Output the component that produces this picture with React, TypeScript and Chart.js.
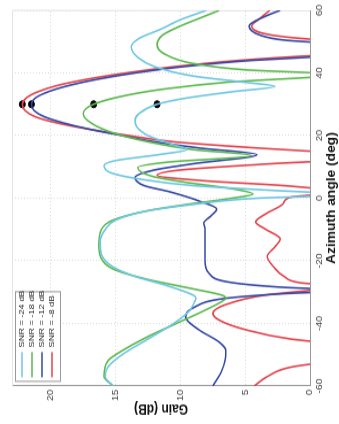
import { useEffect, useRef } from "react";
import { Chart, registerables } from "chart.js";
Chart.register(...registerables);

// ---- data (azimuth in degrees, gain in dB) ----
const AZ_TICKS = [-60, -40, -20, 0, 20, 40, 60];
const GAIN_TICKS = [0, 5, 10, 15, 20];
const SERIES_LABELS = ["SNR = -24 dB", "SNR = -18 dB", "SNR = -12 dB", "SNR = -8 dB"];
const SERIES_COLORS = ["#6ec6e2", "#5cb84e", "#3447a4", "#e2434c"];
const TARGET_AZ = 30;
const TARGET_GAINS = [11.8, 16.7, 21.5, 22.2];

const AZ_CYAN = [-60, -57, -54, -50, -45, -40, -36, -33, -32, -31, -28, -25, -22, -18, -14, -10, -7, -4, -2, 0, 1.1, 2.5, 4, 6, 8, 10.4, 12, 14, 15.5, 17, 20, 23, 25, 27, 30, 32, 34, 35.7, 37, 39, 42, 45, 48.3, 51, 54, 57, 60];
const GAIN_CYAN = [15.2, 15.8, 15.6, 14.5, 12.5, 10.5, 9.3, 8.9, 8.8, 9.0, 11, 13.5, 15.2, 16.1, 16.2, 15.8, 15, 12.5, 9, 4, -3, 3, 9, 13, 15.3, 15.9, 15, 11.5, 9.5, 10.5, 12.5, 13.4, 13.5, 13.2, 11.8, 9.5, 6, 2.7, 5, 9, 12, 13.3, 13.8, 13.2, 11.5, 10, 8];

const AZ_GREEN = [-60, -57, -52, -48, -44, -40, -36, -33, -32, -31, -29, -26, -23, -20, -15, -10, -7, -4, -2, 0, 1.3, 3, 5, 7, 9.8, 11.5, 13.6, 15.5, 18, 21, 24, 27, 30, 33, 35, 37, 39.5, 41, 43, 46, 49, 52, 55, 58, 60];
const GAIN_GREEN = [15.2, 15.9, 15.6, 14.2, 12.4, 10.3, 8.2, 6.8, 6.5, 6.8, 9, 12.5, 15, 16, 16.3, 16.1, 15.2, 12.5, 9.5, 6, 4.4, 6, 9.5, 12.2, 13.3, 11, 4.5, 9, 12.5, 15.3, 16.9, 17.5, 16.7, 14, 11, 6.5, -2, 5, 9, 11.2, 11.8, 11.4, 10, 8.2, 7];

const AZ_BLUE = [-60, -55, -50, -48.6, -46, -42, -38, -35, -32, -30.5, -29.5, -28.5, -27, -24, -20, -15, -10, -8, -5.5, -3.5, -1, 2, 4, 6.6, 9, 11, 13.9, 16, 18, 20, 22, 24, 26, 28, 30, 32, 34, 36, 38, 40, 42, 44, 45.5, 47, 49.3, 50.5, 52, 55, 58, 60];
const GAIN_BLUE = [7.5, 6.8, 6.5, 6.5, 7, 8.6, 9.6, 9, 6.5, 2, -3, 2, 6, 7.8, 8.1, 8.1, 8.1, 8.2, 7.6, 7.2, 8.5, 10.8, 12.8, 13.5, 12, 9, 4.1, 8.5, 12, 14.5, 17, 19, 20.5, 21.3, 21.5, 21.2, 20.2, 18.6, 16.4, 13.5, 9.8, 4.5, -2, -6, -2, 2, 3.8, 4.7, 3.5, 2.3];

const AZ_RED = [-60, -57, -54, -52, -50, -48, -46.5, -45, -42, -39, -36.8, -34, -31, -29.5, -28.5, -27, -25, -22, -18.6, -15.5, -13, -10, -7.6, -5, -1.9, 0.3, 1.5, 2.5, 4, 5.5, 7.3, 9, 11, 12.5, 14, 15, 16, 18, 20, 22, 24, 26, 28, 30, 32, 34, 36, 38, 40, 42, 44, 45.5, 46.5, 49, 50.5, 52, 55, 57, 60];
const GAIN_RED = [4.3, 3.3, 1.5, -2, -6, -6, -2, 1.5, 5, 7, 7.5, 6.5, 3.5, 0, -3, 0.8, 2, 2.8, 3.3, 2.7, 2.3, 3.4, 4.2, 3.4, 2.1, 1.5, -1, -1, 2, 8, 11.8, 10, 3, -3, -3, 0, 4, 10.5, 14, 17, 19.5, 21.2, 22, 22.2, 21.9, 21, 19.5, 17.2, 14.2, 10.5, 5.5, 0, -5, -8, -1, 2.8, 4.5, 4, 3.1];

const SERIES_AZ = [AZ_CYAN, AZ_GREEN, AZ_BLUE, AZ_RED];
const SERIES_GAIN = [GAIN_CYAN, GAIN_GREEN, GAIN_BLUE, GAIN_RED];

// ---- geometry of the (unrotated) figure ----
const FIG_W = 369;
const FIG_H = 339;
const STRETCH = 424 / FIG_W;
const FONT = "'Liberation Sans', Arial, Helvetica, sans-serif";

const legendPlugin = {
  id: "matlabLegend",
  afterDatasetsDraw(chart: any) {
    const { ctx, chartArea } = chart;
    const x0 = chartArea.left + 3.5;
    const y0 = chartArea.top + 3;
    const w = 78;
    const h = 45;
    ctx.save();
    ctx.fillStyle = "#ffffff";
    ctx.fillRect(x0, y0, w, h);
    ctx.strokeStyle = "#9a9a9a";
    ctx.lineWidth = 1;
    ctx.strokeRect(x0 + 0.5, y0 + 0.5, w, h);
    ctx.font = `8px ${FONT}`;
    ctx.textBaseline = "middle";
    ctx.fillStyle = "#222";
    SERIES_LABELS.forEach((lab, i) => {
      const y = y0 + 7 + i * 10;
      ctx.strokeStyle = SERIES_COLORS[i];
      ctx.lineWidth = 1.5;
      ctx.beginPath();
      ctx.moveTo(x0 + 4, y);
      ctx.lineTo(x0 + 26, y);
      ctx.stroke();
      ctx.fillText(lab, x0 + 30, y);
    });
    ctx.restore();
  },
};

const boxPlugin = {
  id: "faintBox",
  beforeDatasetsDraw(chart: any) {
    const { ctx, chartArea } = chart;
    ctx.save();
    ctx.strokeStyle = "#e4e4e4";
    ctx.lineWidth = 1;
    ctx.beginPath();
    ctx.moveTo(chartArea.left, chartArea.top + 0.5);
    ctx.lineTo(chartArea.right, chartArea.top + 0.5);
    ctx.lineTo(chartArea.right - 0.5, chartArea.bottom);
    ctx.stroke();
    ctx.restore();
  },
};

export default function App() {
  const ref = useRef<HTMLCanvasElement | null>(null);
  useEffect(() => {
    document.body.style.margin = "0";
    const canvas = ref.current!;
    const datasets: any[] = SERIES_LABELS.map((label, i) => ({
      label,
      data: SERIES_AZ[i].map((a, k) => ({ x: a, y: SERIES_GAIN[i][k] })),
      borderColor: SERIES_COLORS[i],
      borderWidth: 1.6,
      pointRadius: 0,
      fill: false,
      cubicInterpolationMode: "monotone",
      clip: 0,
    }));
    datasets.push({
      label: "target",
      type: "scatter",
      data: TARGET_GAINS.map((g) => ({ x: TARGET_AZ, y: g })),
      pointRadius: 3,
      pointBackgroundColor: "#000",
      pointBorderColor: "#000",
      showLine: false,
    });
    const chart = new Chart(canvas, {
      type: "line",
      data: { datasets },
      plugins: [boxPlugin, legendPlugin],
      options: {
        animation: false,
        responsive: false,
        devicePixelRatio: 1,
        layout: { padding: { top: 12, right: FIG_W - 363.8, left: 0, bottom: 0 } },
        plugins: { legend: { display: false }, tooltip: { enabled: false } },
        scales: {
          x: {
            type: "linear",
            min: -60,
            max: 60,
            afterBuildTicks: (s: any) => { s.ticks = AZ_TICKS.map((v) => ({ value: v })); },
            afterFit: (s: any) => { s.height = FIG_H - 310; },
            ticks: { font: { size: 9, family: FONT }, color: "#444", padding: 4, maxRotation: 0 },
            grid: { color: "#dcdcdc", drawTicks: false },
            border: { color: "#9a9a9a", width: 1, dash: [1, 2] },
            title: { display: true, text: "Azimuth angle (deg)", font: { size: 12, weight: "bold", family: FONT }, color: "#111", padding: { top: 0, bottom: 0 } },
          },
          y: {
            type: "linear",
            min: 0,
            max: 23,
            afterBuildTicks: (s: any) => { s.ticks = GAIN_TICKS.map((v) => ({ value: v })); },
            afterFit: (s: any) => { s.width = 33.1; },
            ticks: { font: { size: 9, family: FONT }, color: "#444", padding: 3 },
            grid: { color: "#dcdcdc", drawTicks: false },
            border: { color: "#9a9a9a", width: 1, dash: [1, 2] },
            title: { display: true, text: "Gain (dB)", font: { size: 12, weight: "bold", family: FONT }, color: "#111", padding: { top: 6, bottom: 0 } },
          },
        },
      } as any,
    });
    return () => chart.destroy();
  }, []);

  return (
    <div style={{ position: "relative", width: 339, height: 424, overflow: "hidden", background: "#fff" }}>
      <div
        style={{
          position: "absolute",
          left: 0,
          top: 0,
          width: FIG_W,
          height: FIG_H,
          transformOrigin: "0 0",
          transform: `translate(0px, 424px) rotate(-90deg) scaleX(${STRETCH})`,
        }}
      >
        <canvas ref={ref} width={FIG_W} height={FIG_H} style={{ display: "block" }} />
      </div>
    </div>
  );
}
